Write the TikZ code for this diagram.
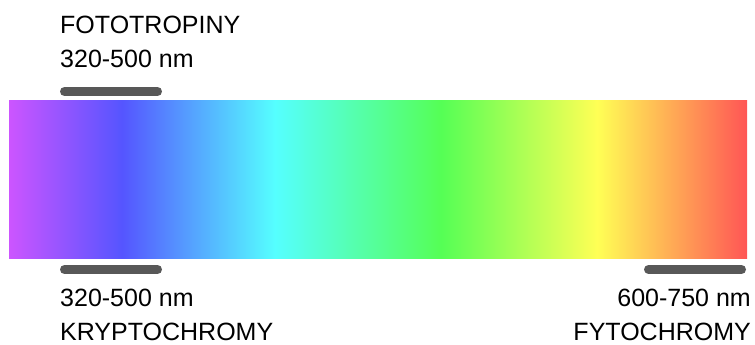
\documentclass[tikz,border=0pt]{standalone}
\usepackage{fontspec}
\setmainfont{Liberation Sans}
\usepackage{xcolor}
\usetikzlibrary{positioning}
\definecolor{violetc}{RGB}{204,85,255}
\definecolor{bluec}{RGB}{85,85,255}
\definecolor{cyanc}{RGB}{85,255,255}
\definecolor{greenc}{RGB}{85,255,85}
\definecolor{yellowc}{RGB}{255,255,85}
\definecolor{redc}{RGB}{255,85,85}
\definecolor{barc}{RGB}{88,88,88}
\pgfdeclarehorizontalshading{spectrum}{100bp}{color(0bp)=(violetc); color(25bp)=(violetc); color(32.66bp)=(bluec); color(43.02bp)=(cyanc); color(54.27bp)=(greenc); color(64.84bp)=(yellowc); color(75bp)=(redc); color(100bp)=(redc)}

\begin{document}
\begin{tikzpicture}[
			x=1pt, y=-1pt,
			every node/.style={font=\fontsize{25}{30}\selectfont, inner sep=0pt, text=black},
			label/.style={anchor=base west},
			rlabel/.style={anchor=base east},
			bar/.style={line width=9pt, line cap=round, draw=barc}
			]
			\useasboundingbox (0,0) rectangle (755,345);
			
			% Spectrum
			\node[rectangle, minimum width=738pt, minimum height=158pt, anchor=north west, shading=spectrum] (spec) at (9,100) {};
			
			% Bars
			\coordinate (b1a) at (64.5,91.5);
			\coordinate (b1b) at (157.5,91.5);
			\coordinate (b2a) at (64.5,269.5);
			\coordinate (b2b) at (157.5,269.5);
			\coordinate (b3a) at (648.5,269.5);
			\coordinate (b3b) at (741.5,269.5);
			\draw[bar] (b1a) -- (b1b);
			\draw[bar] (b2a) -- (b2b);
			\draw[bar] (b3a) -- (b3b);
			
			% Fototropiny
			\node[label] (fotoname) at (60,34) {FOTOTROPINY};
			\node[label] (fotorange) at (60,68) {320-500 nm};
			
			% Kryptochromy
			\node[label] (kryptorange) at (60,306.5) {320-500 nm};
			\node[label] (kryptoname) at (60,340) {KRYPTOCHROMY};
			
			% Fytochromy
			\node[rlabel] (fytorange) at (751,306.5) {600-750 nm};
			\node[rlabel] (fytoname) at (751,340) {FYTOCHROMY};
			
		\end{tikzpicture}
\end{document}
